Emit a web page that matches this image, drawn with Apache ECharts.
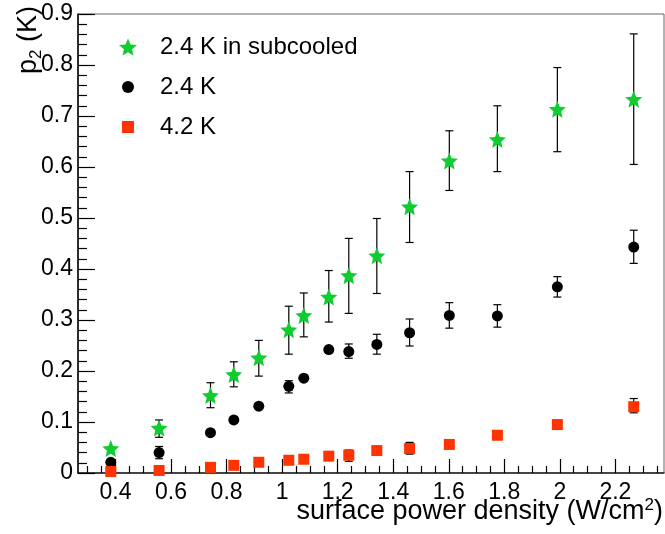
<!DOCTYPE html>
<html>
<head>
<meta charset="utf-8">
<script src="https://cdn.jsdelivr.net/npm/echarts@6/dist/echarts.min.js"></script>
<style>
html,body{margin:0;padding:0;background:#fff;}
#chart{width:665px;height:534px;}
</style>
</head>
<body>
<div id="chart"></div>
<script>
// ---- data ----
const powerDensity = [0.383, 0.557, 0.742, 0.826, 0.916, 1.024, 1.078, 1.168, 1.240, 1.341, 1.459, 1.602, 1.775, 1.991, 2.266];

const subcooledY  = [0.048, 0.088, 0.152, 0.193, 0.226, 0.281, 0.309, 0.345, 0.387, 0.426, 0.522, 0.612, 0.654, 0.713, 0.733];
const subcooledLo = [null, 0.070, 0.128, 0.169, 0.190, 0.233, 0.267, 0.296, 0.313, 0.352, 0.452, 0.554, 0.591, 0.630, 0.605];
const subcooledHi = [null, 0.104, 0.177, 0.218, 0.260, 0.327, 0.353, 0.397, 0.460, 0.499, 0.591, 0.671, 0.720, 0.795, 0.861];

const k24Y  = [0.021, 0.040, 0.079, 0.104, 0.131, 0.170, 0.186, 0.242, 0.238, 0.252, 0.275, 0.309, 0.308, 0.365, 0.443];
const k24Lo = [null, 0.028, null, null, null, 0.157, null, null, 0.225, 0.233, 0.249, 0.284, 0.286, 0.345, 0.411];
const k24Hi = [null, 0.052, null, null, null, 0.181, null, null, 0.253, 0.272, 0.302, 0.334, 0.330, 0.385, 0.476];

const k42Y  = [0.003, 0.005, 0.011, 0.015, 0.021, 0.025, 0.027, 0.033, 0.035, 0.044, 0.048, 0.056, 0.074, 0.095, 0.130];
const k42Lo = [null, null, null, null, null, null, null, null, 0.023, null, 0.037, null, null, null, 0.118];
const k42Hi = [null, null, null, null, null, null, null, null, 0.045, null, 0.060, null, null, null, 0.146];

const seriesNames = ['2.4 K in subcooled', '2.4 K', '4.2 K'];
const xTickLabels = [0.4, 0.6, 0.8, 1.0, 1.2, 1.4, 1.6, 1.8, 2.0, 2.2];
const xMinorTicks = [0.3, 0.35, 0.45, 0.5, 0.55, 0.65, 0.7, 0.75, 0.85, 0.9, 0.95, 1.05, 1.1, 1.15,
                     1.25, 1.3, 1.35, 1.45, 1.5, 1.55, 1.65, 1.7, 1.75, 1.85, 1.9, 1.95, 2.05, 2.1, 2.15,
                     2.25, 2.3, 2.35];
const yTickLabels = [0, 0.1, 0.2, 0.3, 0.4, 0.5, 0.6, 0.7, 0.8, 0.9];
const xRange = [0.265, 2.375];
const yRange = [0, 0.9];

// ---- build chart ----
const FONT = '"Liberation Sans", Helvetica, Arial, sans-serif';
const STAR = 'path://M10,0L12.645,6.36L19.511,6.91L14.28,11.39L15.878,18.09L10,14.5L4.122,18.09L5.72,11.39L0.489,6.91L7.355,6.36Z';

function points(ys) { return powerDensity.map((x, i) => [x, ys[i]]); }
function errPoints(lo, hi) {
  const out = [];
  powerDensity.forEach((x, i) => { if (lo[i] != null && hi[i] != null) out.push([x, lo[i], hi[i]]); });
  return out;
}
function renderErr(params, api) {
  const x = api.value(0), lo = api.value(1), hi = api.value(2);
  const a = api.coord([x, lo]), b = api.coord([x, hi]);
  const h = 4;
  const st = { stroke: '#000', lineWidth: 1.2 };
  return {
    type: 'group',
    children: [
      { type: 'line', shape: { x1: a[0], y1: a[1], x2: b[0], y2: b[1] }, style: st },
      { type: 'line', shape: { x1: a[0] - h, y1: a[1], x2: a[0] + h, y2: a[1] }, style: st },
      { type: 'line', shape: { x1: b[0] - h, y1: b[1], x2: b[0] + h, y2: b[1] }, style: st }
    ]
  };
}

const chart = echarts.init(document.getElementById('chart'), null, { renderer: 'canvas' });
const labelStyle = { color: '#000', fontFamily: FONT, fontSize: 23 };
const legendText = { color: '#000', fontFamily: FONT, fontSize: 24, lineHeight: 24 };

function legendBox(name, top, size) {
  const left = 128 - size / 2;
  return {
    data: [name], orient: 'vertical', left: left, top: top,
    itemWidth: size, itemHeight: size, padding: 0,
    textStyle: Object.assign({ padding: [0, 0, 0, 160 - (left + size + 5)] }, legendText),
    selectedMode: false
  };
}

chart.setOption({
  animation: false,
  backgroundColor: '#fff',
  grid: { left: 78, right: 1, top: 14, bottom: 61, show: true, borderColor: '#666', borderWidth: 1 },
  xAxis: [{
    type: 'value', min: xRange[0], max: xRange[1],
    axisLine: { show: true, onZero: false, lineStyle: { color: '#222', width: 1.5 } },
    axisTick: { show: true, inside: true, length: 14, customValues: xTickLabels, lineStyle: { color: '#000', width: 1.2 } },
    axisLabel: Object.assign({ customValues: xTickLabels, margin: 8, formatter: v => String(+v.toFixed(1)) }, labelStyle),
    splitLine: { show: false }
  }, {
    type: 'value', min: xRange[0], max: xRange[1], position: 'bottom',
    axisLine: { show: false },
    axisTick: { show: true, inside: true, length: 7, customValues: xMinorTicks, lineStyle: { color: '#000', width: 1.2 } },
    axisLabel: { show: false },
    splitLine: { show: false }
  }],
  yAxis: {
    type: 'value', min: yRange[0], max: yRange[1], interval: 0.1,
    axisLine: { show: true, lineStyle: { color: '#000', width: 1.5 } },
    axisTick: { show: true, inside: true, length: 17, lineStyle: { color: '#000', width: 1.2 } },
    minorTick: { show: true, splitNumber: 5, length: 9, lineStyle: { color: '#000', width: 1.2 } },
    axisLabel: Object.assign({ margin: 5, formatter: v => String(+v.toFixed(1)) }, labelStyle),
    splitLine: { show: false }
  },
  legend: [
    legendBox(seriesNames[0], 35, 18),
    legendBox(seriesNames[1], 75, 12),
    legendBox(seriesNames[2], 115, 12)
  ],
  graphic: [
    {
      type: 'text', x: 663, y: 512,
      style: {
        text: '{a|surface power density (W/cm}{s|2}{a|)}',
        align: 'right', verticalAlign: 'middle', fill: '#000',
        rich: {
          a: { fontFamily: FONT, fontSize: 27, fill: '#000', lineHeight: 30 },
          s: { fontFamily: FONT, fontSize: 17, fill: '#000', verticalAlign: 'top', lineHeight: 30 }
        }
      }
    },
    {
      type: 'text', x: 30, y: 6, rotation: Math.PI / 2,
      style: {
        text: '{a|p}{s|2}{a| (K)}',
        align: 'right', verticalAlign: 'middle', fill: '#000',
        rich: {
          a: { fontFamily: FONT, fontSize: 27, fill: '#000', lineHeight: 30, verticalAlign: 'top' },
          s: { fontFamily: FONT, fontSize: 17, fill: '#000', verticalAlign: 'bottom', lineHeight: 30, padding: [10, 0, 0, 0] }
        }
      }
    }
  ],
  series: [
    { type: 'custom', renderItem: renderErr, data: errPoints(subcooledLo, subcooledHi), encode: { x: 0, y: [1, 2] }, z: 1, silent: true },
    { type: 'custom', renderItem: renderErr, data: errPoints(k24Lo, k24Hi), encode: { x: 0, y: [1, 2] }, z: 1, silent: true },
    { type: 'custom', renderItem: renderErr, data: errPoints(k42Lo, k42Hi), encode: { x: 0, y: [1, 2] }, z: 1, silent: true },
    { name: seriesNames[0], type: 'scatter', data: points(subcooledY), symbol: STAR, symbolSize: 17, itemStyle: { color: '#10cc30', opacity: 1 }, z: 3 },
    { name: seriesNames[1], type: 'scatter', data: points(k24Y), symbol: 'circle', symbolSize: 11, itemStyle: { color: '#000', opacity: 1 }, z: 3 },
    { name: seriesNames[2], type: 'scatter', data: points(k42Y), symbol: 'rect', symbolSize: 11, itemStyle: { color: '#ff3300', opacity: 1 }, z: 3 }
  ]
});
</script>
</body>
</html>
